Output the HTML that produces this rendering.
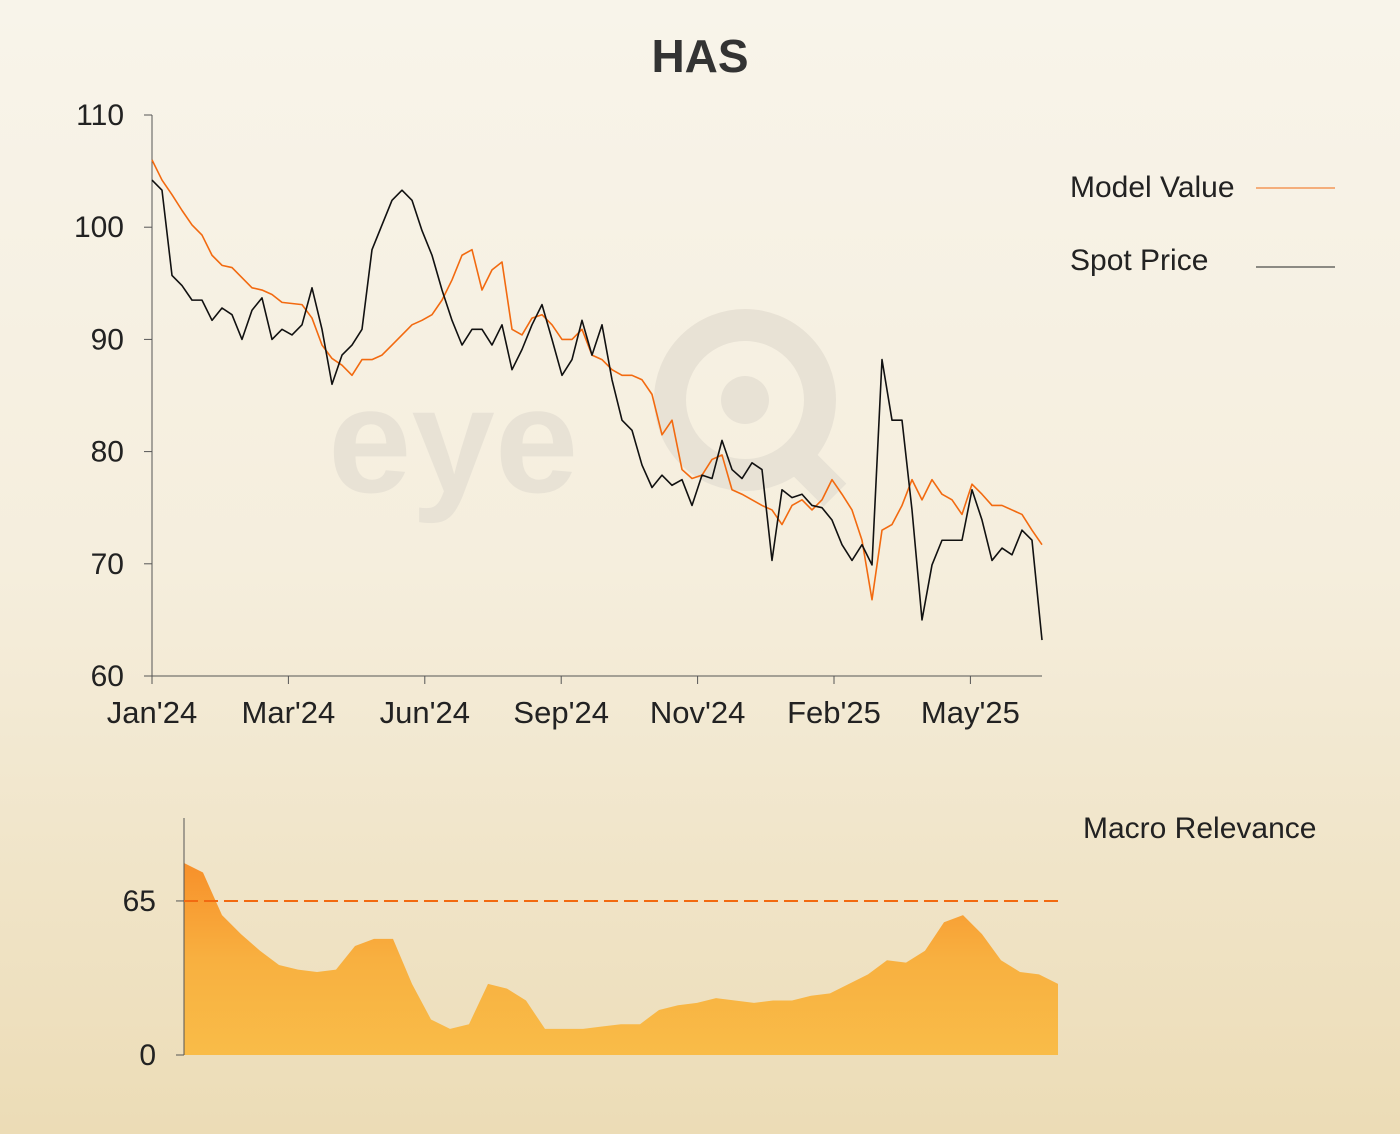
<!DOCTYPE html>
<html><head><meta charset="utf-8"><style>
html,body{margin:0;padding:0}
body{width:1400px;height:1134px;background:linear-gradient(#f8f4ea 0%,#f5eedd 50%,#ecdcb6 100%);font-family:"Liberation Sans",sans-serif;overflow:hidden}
</style></head><body>
<svg id="c" width="1400" height="1134" xmlns="http://www.w3.org/2000/svg" style="position:absolute;left:0;top:0">
<defs>
<linearGradient id="ag" x1="0" y1="0" x2="0" y2="1"><stop offset="0" stop-color="#f7902a"/><stop offset="0.5" stop-color="#f8b040"/><stop offset="1" stop-color="#f9bc48"/></linearGradient>
<filter id="glow"><feGaussianBlur stdDeviation="2"/></filter>
</defs>
<g fill="#e8e2d5">
<text x="328" y="492" font-size="150" font-weight="bold" font-family="Liberation Sans, sans-serif">eye</text>
<circle cx="745" cy="400" r="75" fill="none" stroke="#e8e2d5" stroke-width="32"/>
<circle cx="745" cy="400" r="24"/>
<path d="M790 450 L835 495" stroke="#e8e2d5" stroke-width="32"/>
</g>
<text x="700" y="72" text-anchor="middle" font-size="46" font-weight="bold" fill="#333">HAS</text>
<g id="main"></g>
<g id="macro"></g>
<g font-size="30" fill="#222">
<text x="1070" y="197">Model Value</text>
<line x1="1256" y1="188" x2="1335" y2="188" stroke="#f26a10" stroke-width="1"/>
<text x="1070" y="270">Spot Price</text>
<line x1="1256" y1="267" x2="1335" y2="267" stroke="#222" stroke-width="1"/>
<text x="1083" y="838">Macro Relevance</text>
</g>
</svg>
<script>
const spot=[104.2,103.3,95.7,94.8,93.5,93.5,91.7,92.8,92.2,90,92.6,93.7,90,90.9,90.4,91.3,94.6,90.9,86,88.6,89.5,90.9,98,100.2,102.4,103.3,102.4,99.7,97.5,94.4,91.7,89.5,90.9,90.9,89.5,91.3,87.3,89.1,91.3,93.1,90,86.8,88.2,91.7,88.6,91.3,86.4,82.8,81.9,78.8,76.8,77.9,77,77.5,75.2,77.9,77.6,81,78.4,77.6,79,78.4,70.3,76.6,75.9,76.2,75.2,75,73.9,71.7,70.3,71.7,69.9,88.2,82.8,82.8,74.8,65,69.9,72.1,72.1,72.1,76.6,73.9,70.3,71.4,70.8,73,72.1,63.2];
const model=[106,104.2,102.9,101.5,100.2,99.3,97.5,96.6,96.4,95.5,94.6,94.4,94,93.3,93.2,93.1,91.9,89.5,88.3,87.7,86.8,88.2,88.2,88.6,89.5,90.4,91.3,91.7,92.2,93.5,95.3,97.5,98,94.4,96.2,96.9,90.9,90.4,91.9,92.2,91.3,90,90,90.9,88.6,88.2,87.3,86.8,86.8,86.4,85.1,81.5,82.8,78.4,77.6,77.9,79.3,79.7,76.6,76.2,75.7,75.2,74.8,73.5,75.2,75.7,74.8,75.7,77.5,76.2,74.8,72.1,66.8,73,73.5,75.2,77.5,75.7,77.5,76.2,75.7,74.4,77.1,76.2,75.2,75.2,74.8,74.4,73,71.7];
const yTicks=[60,70,80,90,100,110];
const xTickLabels=["Jan'24","Mar'24","Jun'24","Sep'24","Nov'24","Feb'25","May'25"];
const macro=[81,77,59,51,44,38,36,35,36,46,49,49,30,15,11,13,30,28,23,11,11,11,12,13,13,19,21,22,24,23,22,23,23,25,26,30,34,40,39,44,56,59,51,40,35,34,30];
const macroTicks=[0,65];
const threshold=65;
const NS="http://www.w3.org/2000/svg";
function mk(tag,attrs,parent){const e=document.createElementNS(NS,tag);for(const k in attrs)e.setAttribute(k,attrs[k]);parent.appendChild(e);return e;}
const X0=152,X1=1042,Y0=676,Y1=115;
const yS=v=>Y0-(v-60)/50*(Y0-Y1);
const xS=(i,n)=>X0+i*(X1-X0)/(n-1);
const main=document.getElementById('main');
let ax=mk('line',{x1:X0,y1:Y1,x2:X0,y2:Y0,stroke:'#555','stroke-width':1},main);


let bx=mk('line',{x1:X0,y1:Y0,x2:X1,y2:Y0,stroke:'#555','stroke-width':1},main);


yTicks.forEach(v=>{const y=yS(v);
 mk('line',{x1:X0-8,y1:y,x2:X0,y2:y,stroke:'#555'},main);
 const t=mk('text',{x:X0-28,y:y+10,'text-anchor':'end','font-size':30,fill:'#222'},main);t.textContent=v;
 
 });
xTickLabels.forEach((l,i)=>{const x=X0+i*136.4;
 mk('line',{x1:x,y1:Y0,x2:x,y2:Y0+8,stroke:'#555'},main);
 const t=mk('text',{x:x,y:Y0+47,'text-anchor':'middle','font-size':31,fill:'#222'},main);t.textContent=l;
 
 });
function line(arr,col,name,w){const p=mk('polyline',{points:arr.map((v,i)=>xS(i,arr.length)+','+yS(v)).join(' '),fill:'none',stroke:col,'stroke-width':w,'stroke-linejoin':'round'},main);
 
 }
line(model,'#f26a10','model-value-line',1.6);
line(spot,'#111','spot-price-line',1.6);
const mg=document.getElementById('macro');
const MX0=184,MX1=1058,MY0=1055;
const myS=v=>MY0-v*2.37;
const mxS=i=>MX0+i*(MX1-MX0)/(macro.length-1);
let pts=macro.map((v,i)=>mxS(i)+','+myS(v)).join(' L');
const area=mk('path',{d:'M'+MX0+','+MY0+' L'+pts+' L'+MX1+','+MY0+' Z',fill:'url(#ag)'},mg);


let mA=mk('line',{x1:MX0,y1:818,x2:MX0,y2:MY0,stroke:'#555'},mg);


macroTicks.forEach(v=>{const y=myS(v);
 mk('line',{x1:MX0-8,y1:y,x2:MX0,y2:y,stroke:'#555'},mg);
 const t=mk('text',{x:MX0-28,y:y+10,'text-anchor':'end','font-size':30,fill:'#222'},mg);t.textContent=v;
 
 });
mk('line',{x1:MX0,y1:myS(threshold),x2:MX1,y2:myS(threshold),stroke:'#f47a20','stroke-width':5,'stroke-dasharray':'14 6',filter:'url(#glow)',opacity:0.8},mg);
const th=mk('line',{x1:MX0,y1:myS(threshold),x2:MX1,y2:myS(threshold),stroke:'#f26a10','stroke-width':2,'stroke-dasharray':'14 6'},mg);


</script>
</body></html>
